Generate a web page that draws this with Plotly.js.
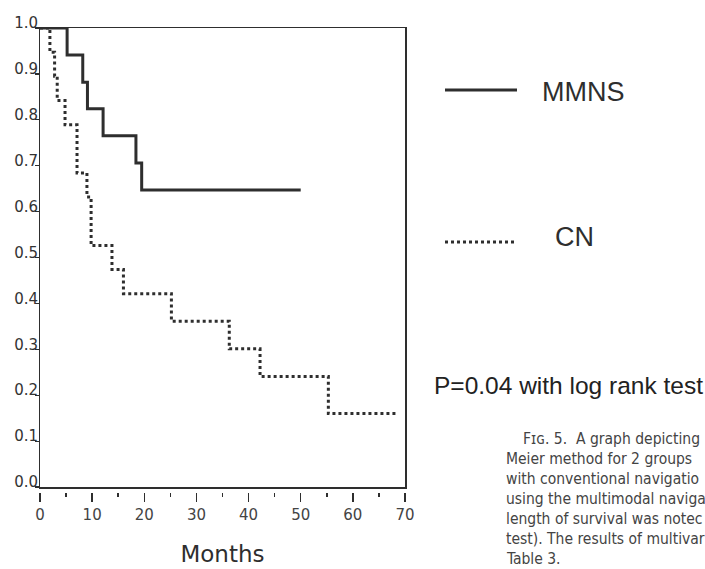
<!DOCTYPE html>
<html>
<head>
<meta charset="utf-8">
<script src="https://cdn.plot.ly/plotly-3.0.1.min.js"></script>
<style>html,body{margin:0;padding:0;background:#fff;}#chart{width:705px;height:569px;}</style>
</head>
<body>
<div id="chart"></div>
<script>
// Kaplan-Meier step data
const mmnsMonths = [0, 5.2, 8.2, 9.1, 12.1, 18.4, 19.5, 50];
const mmnsSurvival = [1.0, 0.941, 0.882, 0.824, 0.765, 0.706, 0.647, 0.647];
const cnMonths = [0, 1.9, 2.8, 3.3, 4.8, 7.1, 9.0, 9.8, 13.8, 16.0, 25.2, 36.3, 42.2, 55.3, 68.4];
const cnSurvival = [1.0, 0.947, 0.895, 0.842, 0.789, 0.684, 0.632, 0.526, 0.474, 0.421, 0.361, 0.301, 0.241, 0.160, 0.160];
const yTickVals = [0, 0.1, 0.2, 0.3, 0.4, 0.5, 0.6, 0.7, 0.8, 0.9, 1.0];
const yTickText = ["0.0", "0.1", "0.2", "0.3", "0.4", "0.5", "0.6", "0.7", "0.8", "0.9", "1.0"];
const xTickVals = [0, 10, 20, 30, 40, 50, 60, 70];
const xTickText = ["0", "10", "20", "30", "40", "50", "60", "70"];
const xMinorVals = [5, 15, 25, 35, 45, 55, 65];
const seriesNames = ["MMNS", "CN"];
const pText = "P=0.04 with log rank test";
const captionLines = [
  "F\u026A\u0262. 5.  A graph depicting",
  "Meier method for 2 groups",
  "with conventional navigatio",
  "using the multimodal naviga",
  "length of survival was notec",
  "test). The results of multivar",
  "Table 3."
];

const ink = "#2e2e2e";
const traces = [
  {x: mmnsMonths, y: mmnsSurvival, mode: "lines", line: {shape: "hv", color: ink, width: 3}, name: seriesNames[0], hoverinfo: "skip"},
  {x: cnMonths, y: cnSurvival, mode: "lines", line: {shape: "hv", color: ink, width: 3, dash: "3px,3px"}, name: seriesNames[1], hoverinfo: "skip"},
  {x: [], y: [], xaxis: "x2", yaxis: "y", mode: "lines", showlegend: false, hoverinfo: "skip"},
  {x: [], y: [], xaxis: "x", yaxis: "y2", mode: "lines", showlegend: false, hoverinfo: "skip"}
];

const W = 705, H = 569;
const ml = 40, mr = 300, mt = 23, mb = 77;
const pw = W - ml - mr, ph = H - mt - mb;   // ph = 469
function px(xp) { return (xp - ml) / pw; }
function py(yp) { return (H - mb - yp) / ph; }

const ann = [
  {x: px(540), y: py(92), xref: "paper", yref: "paper", xanchor: "left", yanchor: "middle", text: seriesNames[0], showarrow: false, font: {family: "Liberation Sans, Arial, sans-serif", size: 27, color: ink}},
  {x: px(553), y: py(237), xref: "paper", yref: "paper", xanchor: "left", yanchor: "middle", text: seriesNames[1], showarrow: false, font: {family: "Liberation Sans, Arial, sans-serif", size: 27, color: ink}},
  {x: px(432), y: py(385), xref: "paper", yref: "paper", xanchor: "left", yanchor: "middle", text: pText, showarrow: false, font: {family: "Liberation Sans, Arial, sans-serif", size: 24.5, color: "#222"}}
];
captionLines.forEach((t, i) => {
  ann.push({x: px(i === 0 ? 521 : 504), y: py(439 + i * 20), xref: "paper", yref: "paper", xanchor: "left", yanchor: "middle", text: t, showarrow: false,
    font: {family: "Liberation Sans Narrow, DejaVu Sans Condensed, sans-serif", size: 15.5, color: "#444"}});
});

const shapes = [
  {type: "line", xref: "paper", yref: "paper", x0: px(445), x1: px(517), y0: py(90), y1: py(90), line: {color: ink, width: 3}},
  {type: "line", xref: "paper", yref: "paper", x0: px(445), x1: px(517), y0: py(242), y1: py(242), line: {color: ink, width: 3, dash: "3px,3px"}}
];

const layout = {
  width: W, height: H,
  margin: {l: ml, r: mr, t: mt, b: mb, pad: 0},
  paper_bgcolor: "#ffffff", plot_bgcolor: "rgba(0,0,0,0)",
  showlegend: false,
  xaxis: {range: [0, 70], showgrid: false, zeroline: false, showline: true, mirror: true, linecolor: ink, linewidth: 1.5,
    ticks: "", showticklabels: false, anchor: "y", fixedrange: true},
  xaxis2: {range: [0, 70], overlaying: "x", anchor: "free", position: 0, showgrid: false, zeroline: false, showline: false,
    tickvals: xTickVals, ticktext: xTickText, ticks: "outside", ticklen: 9, tickwidth: 1.5, tickcolor: ink,
    minor: {tickvals: xMinorVals, ticks: "outside", ticklen: 4, tickwidth: 1.5, tickcolor: ink},
    tickfont: {family: "DejaVu Sans, Verdana, sans-serif", size: 15, color: "#444"},
    title: {text: "Months", font: {family: "DejaVu Sans, Verdana, sans-serif", size: 23, color: ink}, standoff: 22},
    fixedrange: true},
  yaxis: {range: [0, 1], domain: [5 / ph, 1 - 5 / ph], showgrid: false, zeroline: false, showline: true, mirror: true, linecolor: ink, linewidth: 1.5,
    tickvals: yTickVals, ticks: "outside", ticklen: 4, tickwidth: 1.2, tickcolor: ink, showticklabels: false, fixedrange: true},
  yaxis2: {range: [0, 1], domain: [10 / ph, 1], anchor: "x", side: "left", showgrid: false, zeroline: false, showline: false,
    tickvals: yTickVals, ticktext: yTickText, ticks: "", ticklabelstandoff: 1,
    tickfont: {family: "DejaVu Sans, Verdana, sans-serif", size: 15, color: "#333"}, fixedrange: true},
  annotations: ann,
  shapes: shapes
};

Plotly.newPlot("chart", traces, layout, {staticPlot: true, displayModeBar: false});
</script>
</body>
</html>
